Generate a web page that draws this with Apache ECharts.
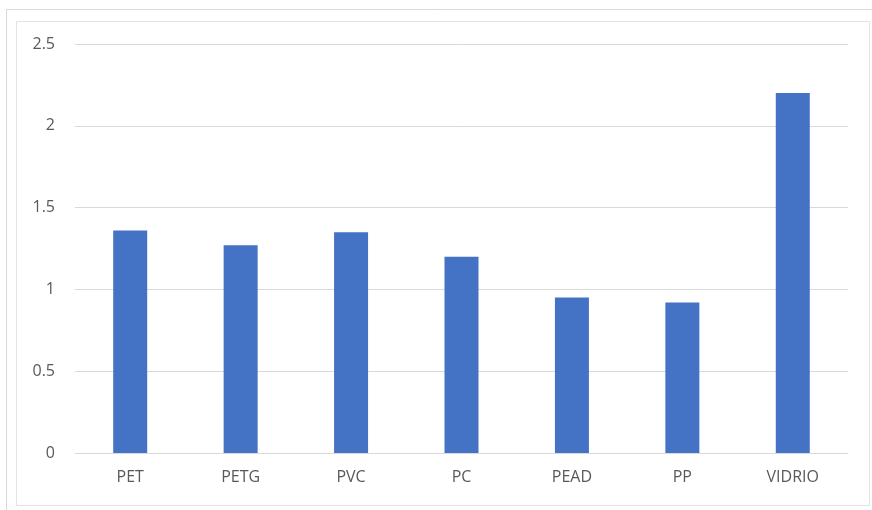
<!DOCTYPE html>
<html>
<head>
<meta charset="utf-8">
<script src="https://cdn.jsdelivr.net/npm/echarts@6/dist/echarts.min.js"></script>
<style>
  html, body { margin: 0; padding: 0; background: #fff; }
  #chart { width: 872px; height: 510px; }
</style>
</head>
<body>
<div id="chart"></div>
<script>
// datos
const categorias = ['PET', 'PETG', 'PVC', 'PC', 'PEAD', 'PP', 'VIDRIO']
const valores = [1.36, 1.27, 1.35, 1.2, 0.95, 0.92, 2.2]
const yMin = 0
const yMax = 2.5
const yPaso = 0.5

const chart = echarts.init(document.getElementById('chart'))
const labelColor = '#595959'
const fuente = 'Open Sans'

chart.setOption({
  animation: false,
  textStyle: { fontFamily: fuente },
  graphic: [
    {
      type: 'rect',
      shape: { x: 6.5, y: 9.5, width: 880, height: 510 },
      style: { fill: 'none', stroke: '#d9d9d9', lineWidth: 1 },
    },
    {
      type: 'rect',
      shape: { x: 16.5, y: 21.5, width: 853, height: 484 },
      style: { fill: 'none', stroke: '#e3e3e3', lineWidth: 1 },
    },
  ],
  grid: {
    left: 75,
    right: 24,
    top: 44,
    bottom: 57,
  },
  xAxis: {
    type: 'category',
    data: categorias,
    axisTick: { show: false },
    axisLine: { lineStyle: { color: '#d9d9d9' } },
    axisLabel: { color: labelColor, fontSize: 16, margin: 16, fontFamily: fuente },
  },
  yAxis: {
    type: 'value',
    min: yMin,
    max: yMax,
    interval: yPaso,
    axisLine: { show: false },
    axisTick: { show: false },
    splitLine: { lineStyle: { color: '#d9d9d9' } },
    axisLabel: { color: labelColor, fontSize: 16, margin: 20, fontFamily: fuente },
  },
  series: [
    {
      type: 'bar',
      data: valores,
      barWidth: 34,
      itemStyle: { color: '#4472C4' },
    },
  ],
})
</script>
</body>
</html>
